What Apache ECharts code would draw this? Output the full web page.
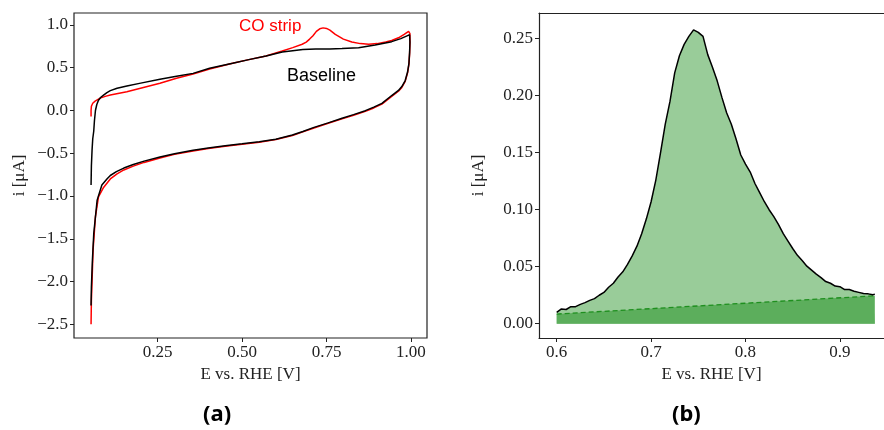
<!DOCTYPE html>
<html>
<head>
<meta charset="utf-8">
<script src="https://cdn.jsdelivr.net/npm/echarts@6/dist/echarts.min.js"></script>
<style>
  html, body { margin: 0; padding: 0; background: #fff; }
  #chart { width: 884px; height: 430px; }
</style>
</head>
<body>
<div id="chart"></div>
<script>
// (a) cyclic voltammograms, [E (V), i (uA)] in scan order
const baselineCV = [
  [0.053, -0.87], [0.054, -0.65], [0.056, -0.46], [0.058, -0.33], [0.061, -0.24],
  [0.063, -0.12], [0.066, 0.0], [0.070, 0.07], [0.075, 0.12], [0.082, 0.155],
  [0.090, 0.18], [0.100, 0.21], [0.110, 0.232], [0.130, 0.26], [0.159, 0.287],
  [0.200, 0.32], [0.257, 0.365], [0.306, 0.40], [0.355, 0.434], [0.404, 0.494],
  [0.472, 0.552], [0.520, 0.595], [0.571, 0.638], [0.619, 0.685], [0.650, 0.70],
  [0.680, 0.712], [0.718, 0.718], [0.760, 0.72], [0.796, 0.724], [0.845, 0.735],
  [0.894, 0.767], [0.943, 0.805], [0.970, 0.84], [0.990, 0.875], [0.996, 0.885],
  [0.997, 0.80], [0.996, 0.68], [0.994, 0.55], [0.990, 0.45], [0.983, 0.35],
  [0.973, 0.28], [0.963, 0.235], [0.943, 0.175], [0.914, 0.084], [0.890, 0.04],
  [0.865, -0.002], [0.830, -0.048], [0.796, -0.091], [0.755, -0.145], [0.713, -0.197],
  [0.680, -0.245], [0.649, -0.287], [0.600, -0.335], [0.551, -0.365], [0.500, -0.39],
  [0.450, -0.412], [0.400, -0.438], [0.355, -0.465], [0.300, -0.505], [0.257, -0.543],
  [0.210, -0.592], [0.178, -0.632], [0.150, -0.673], [0.128, -0.715], [0.110, -0.76],
  [0.100, -0.80], [0.085, -0.872], [0.071, -1.048], [0.061, -1.438], [0.057, -1.75],
  [0.054, -2.06], [0.053, -2.28]
];
const coStripCV = [
  [0.053, -0.07], [0.053, 0.0], [0.054, 0.05], [0.058, 0.085], [0.065, 0.11],
  [0.080, 0.145], [0.095, 0.165], [0.110, 0.181], [0.159, 0.22], [0.208, 0.27],
  [0.257, 0.318], [0.306, 0.377], [0.355, 0.427], [0.404, 0.486], [0.472, 0.552],
  [0.520, 0.595], [0.571, 0.638], [0.619, 0.695], [0.650, 0.735], [0.678, 0.775],
  [0.690, 0.80], [0.700, 0.835], [0.710, 0.875], [0.720, 0.925], [0.730, 0.955],
  [0.740, 0.966], [0.750, 0.96], [0.760, 0.94], [0.776, 0.89], [0.800, 0.835],
  [0.825, 0.80], [0.850, 0.782], [0.875, 0.775], [0.900, 0.782], [0.925, 0.80],
  [0.943, 0.818], [0.963, 0.85], [0.980, 0.89], [0.993, 0.925], [0.997, 0.90],
  [0.997, 0.78], [0.996, 0.66], [0.994, 0.54], [0.990, 0.44], [0.983, 0.34],
  [0.973, 0.27], [0.963, 0.225], [0.943, 0.165], [0.914, 0.075], [0.890, 0.03],
  [0.865, -0.01], [0.830, -0.055], [0.796, -0.098], [0.755, -0.15], [0.713, -0.205],
  [0.680, -0.25], [0.649, -0.292], [0.600, -0.34], [0.551, -0.37], [0.500, -0.395],
  [0.450, -0.418], [0.400, -0.444], [0.355, -0.473], [0.300, -0.513], [0.257, -0.555],
  [0.210, -0.607], [0.178, -0.65], [0.150, -0.695], [0.130, -0.74], [0.110, -0.80],
  [0.090, -0.90], [0.075, -1.01], [0.066, -1.24], [0.059, -1.63], [0.054, -2.22],
  [0.053, -2.50]
];

// (b) CO stripping peak
const stripE = [
  0.600, 0.605, 0.610, 0.615, 0.620, 0.625, 0.630, 0.635, 0.640, 0.645,
  0.650, 0.655, 0.660, 0.665, 0.670, 0.675, 0.680, 0.685, 0.690, 0.695,
  0.700, 0.705, 0.710, 0.715, 0.720, 0.725, 0.730, 0.735, 0.740, 0.745,
  0.750, 0.755, 0.760, 0.765, 0.770, 0.775, 0.780, 0.785, 0.790, 0.795,
  0.800, 0.805, 0.810, 0.815, 0.820, 0.825, 0.830, 0.835, 0.840, 0.845,
  0.850, 0.855, 0.860, 0.865, 0.870, 0.875, 0.880, 0.885, 0.890, 0.895,
  0.900, 0.905, 0.910, 0.915, 0.920, 0.925, 0.930, 0.935, 0.937
];
const stripI = [
  0.0100, 0.0130, 0.0125, 0.0150, 0.0150, 0.0170, 0.0185, 0.0205, 0.0220, 0.0250,
  0.0275, 0.0320, 0.0355, 0.0410, 0.0455, 0.0520, 0.0595, 0.0680, 0.0790, 0.0920,
  0.1070, 0.1260, 0.1500, 0.1750, 0.1950, 0.2200, 0.2350, 0.2450, 0.2520, 0.2577,
  0.2555, 0.2520, 0.2360, 0.2250, 0.2130, 0.1985, 0.1850, 0.1750, 0.1620, 0.1480,
  0.1400, 0.1330, 0.1230, 0.1150, 0.1070, 0.1000, 0.0940, 0.0870, 0.0790, 0.0725,
  0.0660, 0.0600, 0.0555, 0.0505, 0.0470, 0.0435, 0.0405, 0.0370, 0.0355, 0.0330,
  0.0325, 0.0300, 0.0300, 0.0285, 0.0275, 0.0265, 0.0262, 0.0255, 0.0258
];
const lineBaseE = [0.600, 0.937];
const lineBaseI = [0.0085, 0.0245];

const cvTicksX = [0.25, 0.50, 0.75, 1.00];
const cvTicksY = [-2.5, -2.0, -1.5, -1.0, -0.5, 0.0, 0.5, 1.0];
const peakTicksX = [0.6, 0.7, 0.8, 0.9];
const peakTicksY = [0.00, 0.05, 0.10, 0.15, 0.20, 0.25];

const chart = echarts.init(document.getElementById('chart'));

const serif = 'Liberation Serif, Times New Roman, serif';
const minus = (s) => s.replace('-', '\u2212');
const spine = { color: '#222', width: 1.2 };

function xAxisFor(grid, min, max, ticks, digits) {
  return {
    type: 'value', gridIndex: grid, min: min, max: max,
    name: 'E vs. RHE [V]', nameLocation: 'middle', nameGap: 26,
    nameTextStyle: { color: '#222', fontFamily: serif, fontSize: 17 },
    axisLine: { show: grid === 1, onZero: false, lineStyle: spine },
    axisTick: { show: true, length: 4, customValues: ticks, lineStyle: { color: '#222' } },
    axisLabel: {
      customValues: ticks, margin: 6, color: '#222', fontFamily: serif, fontSize: 17,
      formatter: (v) => v.toFixed(digits)
    },
    splitLine: { show: false }
  };
}
function yAxisFor(grid, min, max, ticks, digits, gap) {
  return {
    type: 'value', gridIndex: grid, min: min, max: max,
    name: 'i [\u03bcA]', nameLocation: 'middle', nameGap: gap,
    nameTextStyle: { color: '#222', fontFamily: serif, fontSize: 17 },
    axisLine: { show: grid === 1, onZero: false, lineStyle: spine },
    axisTick: { show: true, length: 4, customValues: ticks, lineStyle: { color: '#222' } },
    axisLabel: {
      customValues: ticks, margin: 6, color: '#222', fontFamily: serif, fontSize: 17,
      formatter: (v) => minus(v.toFixed(digits))
    },
    splitLine: { show: false }
  };
}

const option = {
  animation: false,
  backgroundColor: '#fff',
  grid: [
    { left: 74, top: 13, width: 353, height: 325, containLabel: false,
      show: true, borderColor: '#222', borderWidth: 1.2, backgroundColor: 'transparent' },
    // right frame runs past the picture edge, so only left/top/bottom spines
    { left: 539, top: 13, width: 345, height: 325, containLabel: false, show: false }
  ],
  xAxis: [
    xAxisFor(0, 0.0025, 1.0475, cvTicksX, 2),
    xAxisFor(1, 0.58125, 0.94672, peakTicksX, 1),
    {
      type: 'value', gridIndex: 1, position: 'top', min: 0.58125, max: 0.94672,
      axisLine: { show: true, onZero: false, lineStyle: spine },
      axisTick: { show: false }, axisLabel: { show: false }, splitLine: { show: false }
    }
  ],
  yAxis: [
    yAxisFor(0, -2.66, 1.14, cvTicksY, 1, 46),
    yAxisFor(1, -0.0125, 0.2725, peakTicksY, 2, 52)
  ],
  series: [
    {
      name: 'Baseline', type: 'line', xAxisIndex: 0, yAxisIndex: 0,
      data: baselineCV, showSymbol: false, smooth: false, z: 3,
      lineStyle: { color: '#000', width: 1.5 }
    },
    {
      name: 'CO strip', type: 'line', xAxisIndex: 0, yAxisIndex: 0,
      data: coStripCV, showSymbol: false, smooth: false, z: 2,
      lineStyle: { color: '#ff0000', width: 1.5 }
    },
    {
      name: 'peak fill', type: 'line', xAxisIndex: 1, yAxisIndex: 1,
      data: stripE.map((e, k) => [e, stripI[k]]), showSymbol: false, z: 1,
      lineStyle: { width: 0 },
      areaStyle: { color: '#99cc99', opacity: 1 }
    },
    {
      name: 'baseline fill', type: 'line', xAxisIndex: 1, yAxisIndex: 1,
      data: lineBaseE.map((e, k) => [e, lineBaseI[k]]), showSymbol: false, z: 2,
      lineStyle: { color: '#1f8f1f', width: 1.3, type: [5, 3] },
      areaStyle: { color: '#5cae5c', opacity: 1 }
    },
    {
      name: 'peak', type: 'line', xAxisIndex: 1, yAxisIndex: 1,
      data: stripE.map((e, k) => [e, stripI[k]]), showSymbol: false, z: 3,
      lineStyle: { color: '#000', width: 1.5 }
    }
  ],
  graphic: [
    { type: 'text', left: 239, top: 18, z: 10,
      style: { text: 'CO strip', fill: '#ff0000', font: '17px "Liberation Sans", Arial, sans-serif' } },
    { type: 'text', left: 287, top: 67, z: 10,
      style: { text: 'Baseline', fill: '#000', font: '18px "Liberation Sans", Arial, sans-serif' } },
    { type: 'text', left: 203, top: 404, z: 10,
      style: { text: '(a)', fill: '#000', font: 'bold 22px "Noto Sans", sans-serif' } },
    { type: 'text', left: 672, top: 404, z: 10,
      style: { text: '(b)', fill: '#000', font: 'bold 22px "Noto Sans", sans-serif' } }
  ]
};

chart.setOption(option);
</script>
</body>
</html>
